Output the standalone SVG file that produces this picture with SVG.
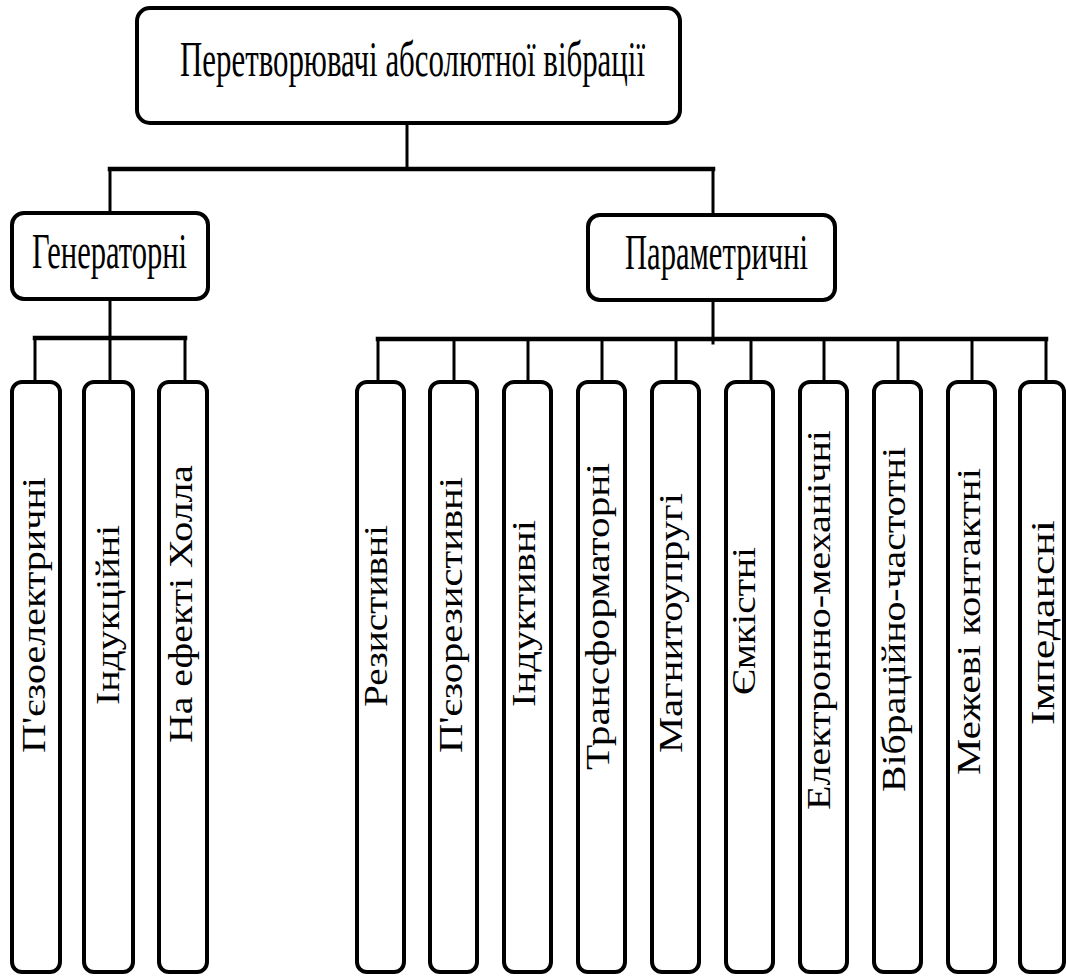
<svg xmlns="http://www.w3.org/2000/svg" width="1066" height="977" viewBox="0 0 1066 977">
  <style>
    .box { fill: #ffffff; stroke: #000000; stroke-width: 4; }
    .wire { fill: none; stroke: #000000; stroke-width: 3; stroke-linecap: square; }
    .bar { fill: none; stroke: #000000; stroke-width: 4.5; stroke-linecap: square; }
    .lbl { font-family: "Liberation Serif", "Times New Roman", serif; fill: #000000; }
    .h { font-size: 51px; }
    .v { font-size: 33px; }
  </style>
  <rect width="1066" height="977" fill="#ffffff"/>

  <!-- connectors -->
  <g id="connectors">
    <line class="wire" x1="407" y1="123" x2="407" y2="169"/>
    <line class="bar" x1="110" y1="169" x2="713" y2="169"/>
    <line class="wire" x1="110" y1="169" x2="110" y2="213"/>
    <line class="wire" x1="713" y1="169" x2="713" y2="215"/>

    <!-- generator branch -->
    <line class="wire" x1="110" y1="299" x2="110" y2="338"/>
    <line class="bar" x1="35" y1="338" x2="185" y2="338"/>
    <line class="wire" x1="35" y1="338" x2="35" y2="382"/>
    <line class="wire" x1="110" y1="338" x2="110" y2="382"/>
    <line class="wire" x1="185" y1="338" x2="185" y2="382"/>

    <!-- parametric branch -->
    <line class="wire" x1="713" y1="300" x2="713" y2="343"/>
    <line class="bar" x1="378" y1="339" x2="1046" y2="339"/>
    <line class="wire" x1="378" y1="339" x2="378" y2="382"/>
    <line class="wire" x1="454" y1="339" x2="454" y2="382"/>
    <line class="wire" x1="528" y1="339" x2="528" y2="382"/>
    <line class="wire" x1="602" y1="339" x2="602" y2="382"/>
    <line class="wire" x1="676" y1="339" x2="676" y2="382"/>
    <line class="wire" x1="751" y1="339" x2="751" y2="382"/>
    <line class="wire" x1="824" y1="339" x2="824" y2="382"/>
    <line class="wire" x1="898" y1="339" x2="898" y2="382"/>
    <line class="wire" x1="972" y1="339" x2="972" y2="382"/>
    <line class="wire" x1="1046" y1="339" x2="1046" y2="382"/>
  </g>

  <!-- root -->
  <g id="root">
    <rect class="box" x="137" y="8" width="543" height="115" rx="13"/>
    <text class="lbl h" x="180" y="76" textLength="465" lengthAdjust="spacingAndGlyphs">Перетворювачі абсолютної вібрації</text>
  </g>

  <!-- second level -->
  <g id="generator">
    <rect class="box" x="12" y="213" width="196" height="86" rx="12"/>
    <text class="lbl h" x="32" y="268" textLength="155" lengthAdjust="spacingAndGlyphs">Генераторні</text>
  </g>
  <g id="parametric">
    <rect class="box" x="588" y="215" width="247" height="85" rx="12"/>
    <text class="lbl h" x="625" y="269" textLength="183" lengthAdjust="spacingAndGlyphs">Параметричні</text>
  </g>

  <!-- generator leaves -->
  <g id="piezoelectric">
    <rect class="box" x="12" y="382" width="48" height="590" rx="10"/>
    <text class="lbl v" transform="translate(45,753) rotate(-90)" textLength="276" lengthAdjust="spacingAndGlyphs">П'єзоелектричні</text>
  </g>
  <g id="induction">
    <rect class="box" x="84" y="382" width="49" height="590" rx="10"/>
    <text class="lbl v" transform="translate(119,705) rotate(-90)" textLength="180" lengthAdjust="spacingAndGlyphs">Індукційні</text>
  </g>
  <g id="hall">
    <rect class="box" x="159" y="382" width="48" height="590" rx="10"/>
    <text class="lbl v" transform="translate(192,743) rotate(-90)" textLength="278" lengthAdjust="spacingAndGlyphs">На ефекті Холла</text>
  </g>

  <!-- parametric leaves -->
  <g id="resistive">
    <rect class="box" x="357" y="382" width="47" height="590" rx="10"/>
    <text class="lbl v" transform="translate(387,707) rotate(-90)" textLength="182" lengthAdjust="spacingAndGlyphs">Резистивні</text>
  </g>
  <g id="piezoresistive">
    <rect class="box" x="430" y="382" width="47" height="590" rx="10"/>
    <text class="lbl v" transform="translate(462,753) rotate(-90)" textLength="276" lengthAdjust="spacingAndGlyphs">П'єзорезистивні</text>
  </g>
  <g id="inductive">
    <rect class="box" x="504" y="382" width="47" height="590" rx="10"/>
    <text class="lbl v" transform="translate(535,707) rotate(-90)" textLength="187" lengthAdjust="spacingAndGlyphs">Індуктивні</text>
  </g>
  <g id="transformer">
    <rect class="box" x="578" y="382" width="47" height="590" rx="10"/>
    <text class="lbl v" transform="translate(609,770) rotate(-90)" textLength="307" lengthAdjust="spacingAndGlyphs">Трансформаторні</text>
  </g>
  <g id="magnetoelastic">
    <rect class="box" x="652" y="382" width="47" height="590" rx="10"/>
    <text class="lbl v" transform="translate(682,753) rotate(-90)" textLength="260" lengthAdjust="spacingAndGlyphs">Магнитоупругі</text>
  </g>
  <g id="capacitive">
    <rect class="box" x="726" y="382" width="47" height="590" rx="10"/>
    <text class="lbl v" transform="translate(755,695) rotate(-90)" textLength="148" lengthAdjust="spacingAndGlyphs">Ємкістні</text>
  </g>
  <g id="electromechanical">
    <rect class="box" x="800" y="382" width="47" height="590" rx="10"/>
    <text class="lbl v" transform="translate(830,810) rotate(-90)" textLength="380" lengthAdjust="spacingAndGlyphs">Електронно-механічні</text>
  </g>
  <g id="vibrofrequency">
    <rect class="box" x="874" y="382" width="47" height="590" rx="10"/>
    <text class="lbl v" transform="translate(905,792) rotate(-90)" textLength="345" lengthAdjust="spacingAndGlyphs">Вібраційно-частотні</text>
  </g>
  <g id="limit-contact">
    <rect class="box" x="948" y="382" width="47" height="590" rx="10"/>
    <text class="lbl v" transform="translate(980,775) rotate(-90)" textLength="307" lengthAdjust="spacingAndGlyphs">Межеві контактні</text>
  </g>
  <g id="impedance">
    <rect class="box" x="1020" y="382" width="44" height="590" rx="10"/>
    <text class="lbl v" transform="translate(1054,725) rotate(-90)" textLength="205" lengthAdjust="spacingAndGlyphs">Імпедансні</text>
  </g>
</svg>
